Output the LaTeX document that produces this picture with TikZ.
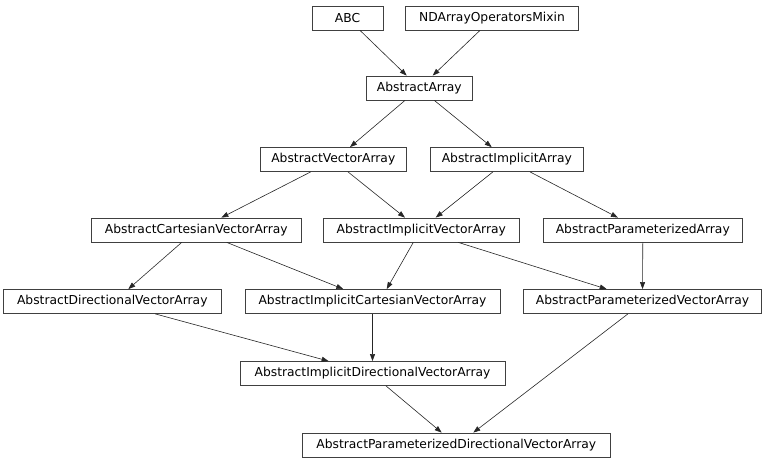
\documentclass[tikz,border=0pt]{standalone}
\usepackage{fontspec}
\setmainfont{DejaVu Sans}
\usetikzlibrary{arrows.meta}
\begin{document}
\begin{tikzpicture}[x=1pt,y=-1pt,
  box/.style={draw=black!75, line width=0.8pt, rectangle, minimum height=24pt, inner sep=0pt,
    font=\fontsize{12.3}{14}\selectfont, text=black},
  edge/.style={draw=black!85, line width=0.6pt, -{Triangle[length=7pt,width=5pt]}}]
\useasboundingbox (0,0) rectangle (768,462);
\node[box, minimum width=71pt] (abc) at (347.5,18) {ABC};
\node[box, minimum width=173pt] (nd) at (492,18) {NDArrayOperatorsMixin};
\node[box, minimum width=106.7pt] (aa) at (419.3,88) {AbstractArray};
\node[box, minimum width=146.7pt] (ava) at (333.3,159.5) {AbstractVectorArray};
\node[box, minimum width=153pt] (aia) at (506.8,159.5) {AbstractImplicitArray};
\node[box, minimum width=209.3pt] (acva) at (196.3,230) {AbstractCartesianVectorArray};
\node[box, minimum width=196pt] (aiva) at (421.3,230) {AbstractImplicitVectorArray};
\node[box, minimum width=199pt] (apa) at (642.8,230) {AbstractParameterizedArray};
\node[box, minimum width=217.5pt] (adva) at (112.3,301.5) {AbstractDirectionalVectorArray};
\node[box, minimum width=255pt] (aicva) at (372.5,301.5) {AbstractImplicitCartesianVectorArray};
\node[box, minimum width=238.4pt] (apva) at (642.5,301.5) {AbstractParameterizedVectorArray};
\node[box, minimum width=265pt] (aidva) at (372.5,373.5) {AbstractImplicitDirectionalVectorArray};
\node[box, minimum width=307.3pt] (apdva) at (456.3,445) {AbstractParameterizedDirectionalVectorArray};
\draw[edge] ([xshift=12.5pt]abc.south) -- ([xshift=-12.6pt]aa.north);
\draw[edge] ([xshift=-12pt]nd.south) -- ([xshift=13.4pt]aa.north);
\draw[edge] ([xshift=-14.3pt]aa.south) -- ([xshift=16.7pt]ava.north);
\draw[edge] ([xshift=15pt]aa.south) -- ([xshift=-15.1pt]aia.north);
\draw[edge] ([xshift=-22.6pt]ava.south) -- ([xshift=25.1pt]acva.north);
\draw[edge] ([xshift=14.7pt]ava.south) -- ([xshift=-16.3pt]aiva.north);
\draw[edge] ([xshift=-13.9pt]aia.south) -- ([xshift=14.4pt]aiva.north);
\draw[edge] ([xshift=23.2pt]aia.south) -- ([xshift=-24.9pt]apa.north);
\draw[edge] ([xshift=-14.6pt]acva.south) -- ([xshift=16pt]adva.north);
\draw[edge] ([xshift=30.4pt]acva.south) -- ([xshift=-29.2pt]aicva.north);
\draw[edge] ([xshift=-8pt]aiva.south) -- ([xshift=14.2pt]aicva.north);
\draw[edge] ([xshift=37pt]aiva.south) -- ([xshift=-35.8pt]apva.north);
\draw[edge] (apa.south) -- (apva.north);
\draw[edge] ([xshift=43pt]adva.south) -- ([xshift=-43.9pt]aidva.north);
\draw[edge] (aicva.south) -- (aidva.north);
\draw[edge] ([xshift=13.5pt]aidva.south) -- ([xshift=-14.6pt]apdva.north);
\draw[edge] ([xshift=-14.6pt]apva.south) -- ([xshift=17pt]apdva.north);
\end{tikzpicture}
\end{document}
